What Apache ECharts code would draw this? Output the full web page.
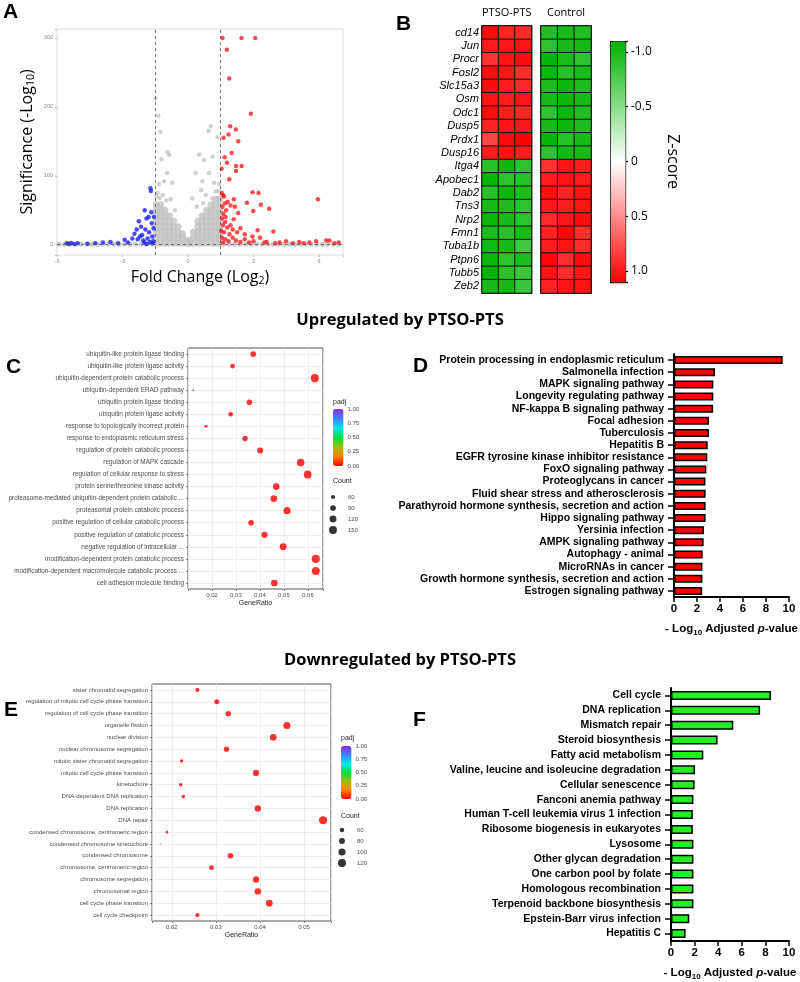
<!DOCTYPE html>
<html><head><meta charset="utf-8">
<script src="https://cdn.jsdelivr.net/npm/echarts@6/dist/echarts.min.js"></script>
<style>html,body{margin:0;padding:0;background:#fff}#c{width:800px;height:982px}</style>
</head><body><div id="c"></div>
<script>
// ---------- Panel A: volcano ----------
const volcanoGrayBase = [[-5.9,0.5],[-5.65,0.5],[-5.4,0.5],[-5.15,0.5],[-4.9,0.5],[-4.65,0.5],[-4.4,0.5],[-4.15,0.5],[-3.9,0.5],[-3.65,0.5],[-3.4,0.5],[-3.15,0.5],[-2.9,0.5],[-2.65,0.5],[-2.4,0.5],[-2.15,0.5],[-1.9,0.5],[-1.65,0.5],[1.65,0.5],[1.9,0.5],[2.15,0.5],[2.4,0.5],[2.65,0.5],[2.9,0.5],[3.15,0.5],[3.4,0.5],[3.65,0.5],[3.9,0.5],[4.15,0.5],[4.4,0.5],[4.65,0.5],[4.9,0.5],[5.15,0.5],[5.4,0.5],[5.65,0.5],[5.9,0.5],[6.15,0.5],[6.4,0.5],[6.65,0.5],[6.9,0.5]];
const volcanoGrayDense = [
 [-1.45,2],[-1.45,10],[-1.45,18],[-1.45,26],[-1.45,34],[-1.45,42],[-1.45,50],[-1.45,58],
 [-1.25,2],[-1.25,10],[-1.25,18],[-1.25,26],[-1.25,34],[-1.25,42],[-1.25,50],[-1.25,58],
 [-1.05,2],[-1.05,10],[-1.05,18],[-1.05,26],[-1.05,34],[-1.05,42],[-1.05,50],
 [-0.85,2],[-0.85,10],[-0.85,18],[-0.85,26],[-0.85,34],[-0.85,42],
 [-0.65,2],[-0.65,10],[-0.65,18],[-0.65,26],[-0.65,34],
 [-0.45,2],[-0.45,10],[-0.45,18],[-0.45,26],
 [-0.25,2],[-0.25,10],[-0.25,16],
 [-0.08,2],[-0.08,6],
 [0.08,2],[0.08,6],
 [0.25,2],[0.25,10],[0.25,18],
 [0.45,2],[0.45,10],[0.45,18],[0.45,26],[0.45,34],
 [0.65,2],[0.65,10],[0.65,18],[0.65,26],[0.65,34],[0.65,42],
 [0.85,2],[0.85,10],[0.85,18],[0.85,26],[0.85,34],[0.85,42],[0.85,50],
 [1.05,2],[1.05,10],[1.05,18],[1.05,26],[1.05,34],[1.05,42],[1.05,50],[1.05,58],
 [1.25,2],[1.25,10],[1.25,18],[1.25,26],[1.25,34],[1.25,42],[1.25,50],[1.25,58],[1.25,66],
 [1.45,2],[1.45,10],[1.45,18],[1.45,26],[1.45,34],[1.45,42],[1.45,50],[1.45,58],[1.45,66]
];
const volcanoGrayScatter = [[-1.49,212],[-1.36,187],[-1.26,164],[-0.94,134],[-0.86,130],[-1.21,124],[-0.95,104],[-1.1,92],[-0.72,90],[-1.33,88],[-1.4,75],[-1.15,72],[-0.8,66],[-1.3,68],[-1.0,64],[-0.6,50],[-1.45,70],
 [1.04,172],[0.94,165],[1.35,156],[0.51,131],[0.74,123],[1.12,128],[0.35,104],[0.97,104],[0.66,92],[1.2,90],[0.6,79],[1.27,77],[0.81,72],[0.2,67],[1.12,67],[1.43,88],[0.4,55],[0.7,60],[1.4,78]];
const volcanoBlue = [[-5.55,2],[-5.45,1],[-5.35,2.5],[-5.2,1],[-5.05,2],[-4.6,1.5],[-4.25,2],[-3.9,3],[-3.55,4],[-3.2,2],[-2.9,7],[-2.75,3],[-2.55,9],[-2.45,16],[-2.35,22],[-2.25,34],[-2.2,12],[-2.15,26],[-2.1,14],[-2.05,6],[-1.98,50],[-1.95,22],[-1.9,38],[-1.85,9],[-1.8,40],[-1.78,18],[-1.72,82],[-1.7,78],[-1.68,47],[-1.66,31],[-1.64,12],[-1.6,5],[-1.58,24],[-1.56,40],[-2.3,8],[-2.0,3],[-1.75,4],[-1.62,2],[-1.9,1]];
const volcanoRed = [[1.58,300],[2.45,300],[3.08,300],[1.78,283],[1.89,241],[2.88,190],[1.93,172],[2.19,167],[1.86,160],[1.63,155],[2.3,150],[2.0,133],[1.68,127],[1.79,119],[2.2,114],[2.46,114],[1.54,110],[2.2,107],[1.89,95],[2.96,76],[3.23,75],[5.95,66],[2.1,66],[2.7,61],[3.72,52],[3.34,58],[2.99,49],[2.3,46],[2.1,37],[3.91,19],[3.19,21],[2.95,12],[4.49,5],[5.1,4],[5.56,3],[5.87,5],[6.33,6],[6.48,6],
 [1.55,75],[1.6,72],[1.65,70],[1.7,60],[1.58,55],[1.62,45],[1.75,50],[1.55,38],[1.7,33],[1.6,28],[1.8,25],[1.52,20],[1.65,18],[1.9,15],[1.55,10],[1.7,8],[1.85,5],[2.05,10],[2.2,6],[2.4,4],[2.6,8],[2.8,3],[3.0,5],[3.5,3],[4.0,2],[4.2,3],[1.6,3],[1.95,28],[2.05,22],[2.25,18],[2.15,55],[1.95,57],[1.72,40],[1.82,62],[2.4,24],[2.6,15],[3.3,10],[3.6,4],[4.8,2],[5.3,2],[6.7,2],[6.9,3]];
const fcCutoffs = [-1.5, 1.5];
const sigCutoff = 1.3;

// ---------- Panel B: heatmap ----------
const genes = ['cd14','Jun','Procr','Fosl2','Slc15a3','Osm','Odc1','Dusp5','Prdx1','Dusp16','Itga4','Apobec1','Dab2','Tns3','Nrp2','Fmn1','Tuba1b','Ptpn6','Tubb5','Zeb2'];
const samples = ['1','2','3'];
const zPTSO = [[1.05,0.95,0.92],[0.98,1.0,1.02],[0.88,1.02,1.05],[1.05,1.0,0.9],[1.05,0.98,0.93],[1.02,0.98,1.0],[1.05,0.97,0.93],[0.95,1.02,1.0],[0.8,1.05,1.1],[0.97,1.02,0.98],
 [-0.92,-1.05,-0.9],[-1.08,-0.9,-0.92],[-0.92,-1.05,-0.98],[-1.0,-0.98,-0.9],[-1.05,-1.0,-0.9],[-0.98,-0.92,-1.0],[-1.02,-1.0,-0.82],[-1.05,-0.9,-0.98],[-1.1,-0.92,-0.85],[-1.0,-1.02,-0.85]];
const zControl = [[-0.95,-1.0,-0.95],[-0.9,-1.0,-1.02],[-1.08,-0.98,-0.9],[-1.05,-0.92,-1.0],[-0.98,-1.05,-0.98],[-1.0,-1.05,-1.0],[-0.9,-1.05,-0.95],[-1.0,-1.05,-0.97],[-1.08,-0.92,-1.0],[-0.9,-1.02,-1.0],
 [0.88,1.02,0.97],[0.97,1.02,0.98],[1.05,0.95,1.02],[1.0,0.97,1.02],[0.92,1.0,1.05],[0.95,1.08,0.9],[0.98,1.02,0.92],[1.08,0.9,1.05],[1.02,0.9,1.0],[0.95,1.02,1.02]];

// ---------- Panel C ----------
const termsC = ['ubiquitin-like protein ligase binding','ubiquitin-like protein ligase activity','ubiquitin-dependent protein catabolic process','ubiquitin-dependent ERAD pathway','ubiquitin protein ligase binding','ubiquitin protein ligase activity','response to topologically incorrect protein','response to endoplasmic reticulum stress','regulation of protein catabolic process','regulation of MAPK cascade','regulation of cellular response to stress','protein serine/threonine kinase activity','proteasome-mediated ubiquitin-dependent protein catabolic ...','proteasomal protein catabolic process','positive regulation of cellular catabolic process','positive regulation of catabolic process','negative regulation of intracellular ...','modification-dependent protein catabolic process','modification-dependent macromolecule catabolic process ...','cell adhesion molecule binding'];
const ratioC = [0.0372,0.0286,0.0629,0.0122,0.0356,0.0278,0.0175,0.0338,0.0401,0.0570,0.0599,0.0468,0.0458,0.0513,0.0363,0.0419,0.0497,0.0633,0.0633,0.0460];
const countC = [90,70,153,30,87,68,43,82,97,138,146,114,111,125,88,102,121,154,154,112];
const padjC = [0.0001,0.0002,0.0001,0.003,0.0002,0.0004,0.002,0.0003,0.0002,0.0001,0.0001,0.0001,0.0001,0.0001,0.0002,0.0001,0.0001,0.0001,0.0001,0.0001];
const countLegendC = [60,90,120,150];
const minorC = [0.015,0.025,0.035,0.045,0.055,0.065];

// ---------- Panel D ----------
const termsD = ['Protein processing in endoplasmic reticulum','Salmonella infection','MAPK signaling pathway','Longevity regulating pathway','NF-kappa B signaling pathway','Focal adhesion','Tuberculosis','Hepatitis B','EGFR tyrosine kinase inhibitor resistance','FoxO signaling pathway','Proteoglycans in cancer','Fluid shear stress and atherosclerosis','Parathyroid hormone synthesis, secretion and action','Hippo signaling pathway','Yersinia infection','AMPK signaling pathway','Autophagy - animal','MicroRNAs in cancer','Growth hormone synthesis, secretion and action','Estrogen signaling pathway'];
const valuesD = [9.45,3.57,3.42,3.42,3.4,3.04,3.04,2.93,2.9,2.81,2.73,2.75,2.75,2.75,2.6,2.58,2.49,2.47,2.47,2.45];

// ---------- Panel E ----------
const termsE = ['sister chromatid segregation','regulation of mitotic cell cycle phase transition','regulation of cell cycle phase transition','organelle fission','nuclear division','nuclear chromosome segregation','mitotic sister chromatid segregation','mitotic cell cycle phase transition','kinetochore','DNA-dependent DNA replication','DNA replication','DNA repair','condensed chromosome, centromeric region','condensed chromosome kinetochore','condensed chromosome','chromosome, centromeric region','chromosome segregation','chromosomal region','cell cycle phase transition','cell cycle checkpoint'];
const ratioE = [0.0258,0.0302,0.0328,0.0461,0.0430,0.0324,0.0222,0.0391,0.0220,0.0226,0.0395,0.0543,0.0189,0.0174,0.0333,0.0290,0.0391,0.0395,0.0421,0.0258];
const countE = [57,67,73,102,95,72,49,87,49,50,88,121,42,35,74,64,87,88,94,57];
const padjE = [0.0001,0.0001,0.0001,0.0001,0.0001,0.0001,0.0002,0.0001,0.0003,0.0002,0.0001,0.0001,0.001,0.002,0.0001,0.0002,0.0001,0.0001,0.0001,0.0003];
const countLegendE = [60,80,100,120];
const minorE = [0.025,0.035,0.045,0.055];

// ---------- Panel F ----------
const termsF = ['Cell cycle','DNA replication','Mismatch repair','Steroid biosynthesis','Fatty acid metabolism','Valine, leucine and isoleucine degradation','Cellular senescence','Fanconi anemia pathway','Human T-cell leukemia virus 1 infection','Ribosome biogenesis in eukaryotes','Lysosome','Other glycan degradation','One carbon pool by folate','Homologous recombination','Terpenoid backbone biosynthesis','Epstein-Barr virus infection','Hepatitis C'];
const valuesF = [8.47,7.55,5.28,3.95,2.74,2.03,2.0,1.9,1.85,1.85,1.9,1.9,1.9,1.9,1.9,1.55,1.24];

// ---------- build ----------
const SANS = 'Liberation Sans', OPEN = 'Open Sans';
const sizeC = c => Math.sqrt(Math.max(1, 0.5 * c - 12));
const sizeE = c => Math.sqrt(Math.max(1, 0.75 * c - 25));
const heat = z => { const d = []; z.forEach((row, gi) => row.forEach((v, si) => d.push([si, gi, v]))); return d; };
const rainbow = ['#ff0000','#ff7f00','#a0c000','#00e040','#00e8e8','#4080ff','#8a2be2'];
const ggTextC = {fontFamily: SANS, fontSize: 6.4, color: '#4d4d4d'};
const ggTextE = {fontFamily: SANS, fontSize: 6.0, color: '#4d4d4d'};
const ggTick = {fontFamily: SANS, fontSize: 6, color: '#4d4d4d'};
const logName = '{b|- Log}{s|10}{b| Adjusted }{i|p}{b|-value}';
const logRich = {b:{fontFamily:SANS,fontWeight:'bold',fontSize:11.5,color:'#000',lineHeight:16},
  s:{fontFamily:SANS,fontWeight:'bold',fontSize:8,color:'#000',lineHeight:10,verticalAlign:'bottom'},
  i:{fontFamily:SANS,fontWeight:'bold',fontStyle:'italic',fontSize:11.5,color:'#000',lineHeight:16}};
const hidden = (g) => ({gridIndex:g, type:'value', show:false});
const letter = (t, l, tp) => ({text:t, left:l, top:tp, padding:0, textStyle:{fontFamily:SANS,fontWeight:'bold',fontSize:21,color:'#000'}});
const small = (t, l, tp) => ({text:t, left:l, top:tp, padding:0, textStyle:{fontFamily:SANS,fontWeight:'normal',fontSize:7,color:'#222'}});

const option = {
  animation:false,
  backgroundColor:'#fff',
  title:[
    letter('A',3,2), letter('B',396,14), letter('C',6,357), letter('D',413,356), letter('E',4,700), letter('F',413,710),
    {text:'Upregulated by PTSO-PTS', left:'center', top:312, padding:0, textStyle:{fontFamily:OPEN,fontWeight:'bold',fontSize:16.5,color:'#000'}},
    {text:'Downregulated by PTSO-PTS', left:'center', top:652, padding:0, textStyle:{fontFamily:OPEN,fontWeight:'bold',fontSize:16.5,color:'#000'}},
    small('padj',333,399), small('Count',333,478), small('padj',341,735), small('Count',341,813)
  ],
  grid:[
    {left:57, top:29, width:286, height:226, show:true, borderColor:'#d9d9d9', borderWidth:1},
    {left:482, top:26, width:49.5, height:267, show:true, borderColor:'#000', borderWidth:1.5},
    {left:541, top:26, width:50, height:267, show:true, borderColor:'#000', borderWidth:1.5},
    {left:610, top:41, width:15, height:241},
    {left:188, top:348, width:135, height:241, show:true, borderColor:'#555', borderWidth:1},
    {left:333, top:409, width:10.5, height:57},
    {left:333, top:491.5, width:10, height:44},
    {left:674, top:354, width:115, height:243},
    {left:152, top:684, width:179, height:237, show:true, borderColor:'#555', borderWidth:1},
    {left:341, top:746, width:10.5, height:53},
    {left:342, top:824.5, width:10, height:44},
    {left:671, top:688, width:118, height:255}
  ],
  xAxis:[
    {gridIndex:0, type:'value', min:-6, max:7.1, interval:3, axisLine:{show:false,onZero:false}, splitLine:{show:false},
      axisTick:{show:true,length:2,lineStyle:{color:'#999',width:0.6}},
      axisLabel:{fontFamily:SANS,fontSize:5.5,color:'#888',margin:3,formatter:v=>{const r=Math.round(v/3)*3;return (Math.abs(v-r)<1e-6&&r>=-6&&r<=6)?String(r):'';}},
      name:'{a|Fold Change (Log}{s|2}{a|)}', nameLocation:'middle', nameGap:12,
      nameTextStyle:{rich:{a:{fontFamily:OPEN,fontSize:16,color:'#000',lineHeight:20},s:{fontFamily:OPEN,fontSize:10.5,color:'#000',lineHeight:13,verticalAlign:'bottom'}}}},
    {gridIndex:1, type:'category', data:samples, position:'top', axisLine:{show:false}, axisTick:{show:false}, axisLabel:{show:false},
      name:'PTSO-PTS', nameLocation:'middle', nameGap:8, nameTextStyle:{fontFamily:OPEN,fontSize:11,color:'#000'}},
    {gridIndex:2, type:'category', data:samples, position:'top', axisLine:{show:false}, axisTick:{show:false}, axisLabel:{show:false},
      name:'Control', nameLocation:'middle', nameGap:8, nameTextStyle:{fontFamily:OPEN,fontSize:11,color:'#000'}},
    hidden(3),
    {gridIndex:4, type:'value', min:0.01, max:0.0663, interval:0.01, axisLine:{show:false,onZero:false},
      axisTick:{show:true,length:2,lineStyle:{color:'#333',width:0.6}},
      splitLine:{show:true,lineStyle:{color:'#e6e6e6',width:0.7}},
      axisLabel:{...ggTick, margin:3, formatter:v=>{const r=Math.round(v*100)/100;return (Math.abs(v-r)<1e-7&&r>=0.02&&r<=0.06)?r.toFixed(2):'';}},
      name:'GeneRatio', nameLocation:'middle', nameGap:11, nameTextStyle:{fontFamily:SANS,fontSize:7,color:'#222'}},
    hidden(5), hidden(6),
    {gridIndex:7, type:'value', min:0, max:10, interval:2, axisLine:{show:true,onZero:false,lineStyle:{color:'#000',width:2}},
      axisTick:{show:true,length:5,lineStyle:{color:'#000',width:1.5}}, splitLine:{show:false},
      axisLabel:{fontFamily:SANS,fontWeight:'bold',fontSize:11.5,color:'#000',margin:6},
      name:logName, nameLocation:'middle', nameGap:24, nameTextStyle:{rich:logRich}},
    {gridIndex:8, type:'value', min:0.0155, max:0.0561, splitNumber:4, axisLine:{show:false,onZero:false},
      axisTick:{show:true,length:2,lineStyle:{color:'#333',width:0.6}},
      splitLine:{show:true,lineStyle:{color:'#e6e6e6',width:0.7}},
      axisLabel:{...ggTick, margin:3, formatter:v=>{const r=Math.round(v*100)/100;return (Math.abs(v-r)<1e-7&&r>=0.02&&r<=0.05)?r.toFixed(2):'';}},
      name:'GeneRatio', nameLocation:'middle', nameGap:11, nameTextStyle:{fontFamily:SANS,fontSize:7,color:'#222'}},
    hidden(9), hidden(10),
    {gridIndex:11, type:'value', min:0, max:10, interval:2, axisLine:{show:true,onZero:false,lineStyle:{color:'#000',width:2}},
      axisTick:{show:true,length:5,lineStyle:{color:'#000',width:1.5}}, splitLine:{show:false},
      axisLabel:{fontFamily:SANS,fontWeight:'bold',fontSize:11.5,color:'#000',margin:6},
      name:logName, nameLocation:'middle', nameGap:24, nameTextStyle:{rich:logRich}}
  ],
  yAxis:[
    {gridIndex:0, type:'value', min:-15, max:313, splitNumber:3, axisLine:{show:false,onZero:false}, splitLine:{show:false},
      axisTick:{show:true,length:2,lineStyle:{color:'#999',width:0.6}},
      axisLabel:{fontFamily:SANS,fontSize:5.5,color:'#888',margin:4,formatter:v=>(v>=0&&Math.abs(v%100)<1e-6)?String(v):''},
      name:'{a|Significance (-Log}{s|10}{a|)}', nameLocation:'middle', nameGap:20,
      nameTextStyle:{rich:{a:{fontFamily:OPEN,fontSize:16,color:'#000',lineHeight:20},s:{fontFamily:OPEN,fontSize:10.5,color:'#000',lineHeight:13,verticalAlign:'bottom'}}}},
    {gridIndex:1, type:'category', data:genes, inverse:true, axisLine:{show:false}, axisTick:{show:false},
      axisLabel:{interval:0,fontFamily:SANS,fontStyle:'italic',fontSize:11,color:'#000',margin:3}},
    {gridIndex:2, type:'category', data:genes, inverse:true, axisLine:{show:false}, axisTick:{show:false}, axisLabel:{show:false}},
    {gridIndex:3, type:'value', min:-1.1, max:1.1, splitNumber:4, inverse:true, position:'right', axisLine:{show:false,onZero:false},
      axisTick:{show:true,length:3,lineStyle:{color:'#000',width:1.2}}, splitLine:{show:false},
      axisLabel:{fontFamily:OPEN,fontSize:12,color:'#000',margin:6,formatter:v=>{const r=Math.round(v*2)/2;if(Math.abs(v-r)>1e-6)return '';return r===0?'0':r.toFixed(1);}},
      name:'Z-score', nameLocation:'middle', nameRotate:-90, nameGap:40, nameTextStyle:{fontFamily:OPEN,fontSize:16,color:'#000'}},
    {gridIndex:4, type:'category', data:termsC, inverse:true, axisLine:{show:false,onZero:false},
      axisTick:{show:true,alignWithLabel:true,length:2,lineStyle:{color:'#333',width:0.6}},
      splitLine:{show:true,alignWithLabel:true,lineStyle:{color:'#e6e6e6',width:0.7}},
      axisLabel:{...ggTextC, interval:0, margin:4}},
    {gridIndex:5, type:'value', min:0, max:1, interval:0.25, position:'right', axisLine:{show:false}, axisTick:{show:false}, splitLine:{show:false},
      axisLabel:{...ggTick, margin:4, formatter:v=>v.toFixed(2)}},
    {gridIndex:6, type:'category', data:countLegendC.map(String), inverse:true, position:'right', axisLine:{show:false}, axisTick:{show:false},
      axisLabel:{...ggTick, margin:5}},
    {gridIndex:7, type:'category', data:termsD, inverse:true, axisLine:{show:true,onZero:false,lineStyle:{color:'#000',width:2}},
      axisTick:{show:true,alignWithLabel:true,length:6,lineStyle:{color:'#000',width:1.5}},
      axisLabel:{interval:0,fontFamily:SANS,fontWeight:'bold',fontSize:10.5,color:'#000',margin:10}},
    {gridIndex:8, type:'category', data:termsE, inverse:true, axisLine:{show:false,onZero:false},
      axisTick:{show:true,alignWithLabel:true,length:2,lineStyle:{color:'#333',width:0.6}},
      splitLine:{show:true,alignWithLabel:true,lineStyle:{color:'#e6e6e6',width:0.7}},
      axisLabel:{...ggTextE, interval:0, margin:4}},
    {gridIndex:9, type:'value', min:0, max:1, interval:0.25, position:'right', axisLine:{show:false}, axisTick:{show:false}, splitLine:{show:false},
      axisLabel:{...ggTick, margin:4, formatter:v=>v.toFixed(2)}},
    {gridIndex:10, type:'category', data:countLegendE.map(String), inverse:true, position:'right', axisLine:{show:false}, axisTick:{show:false},
      axisLabel:{...ggTick, margin:5}},
    {gridIndex:11, type:'category', data:termsF, inverse:true, axisLine:{show:true,onZero:false,lineStyle:{color:'#000',width:2}},
      axisTick:{show:true,alignWithLabel:true,length:6,lineStyle:{color:'#000',width:1.5}},
      axisLabel:{interval:0,fontFamily:SANS,fontWeight:'bold',fontSize:10.5,color:'#000',margin:10}}
  ],
  visualMap:[
    {type:'continuous', seriesIndex:[5,6], min:-1.1, max:1.1, inverse:true, left:610, top:41, itemWidth:15, itemHeight:241,
      calculable:false, hoverLink:false, padding:0, borderColor:'#000', borderWidth:1.2, text:null,
      inRange:{color:['#00b400','#ffffff','#ff0000']}},
    {type:'continuous', seriesIndex:7, dimension:3, min:0, max:1, left:333, top:409, itemWidth:10.5, itemHeight:57,
      calculable:false, hoverLink:false, padding:0, inRange:{color:rainbow}},
    {type:'continuous', seriesIndex:11, dimension:3, min:0, max:1, left:341, top:746, itemWidth:10.5, itemHeight:53,
      calculable:false, hoverLink:false, padding:0, inRange:{color:rainbow}}
  ],
  series:[
    {type:'scatter', xAxisIndex:0, yAxisIndex:0, data:volcanoGrayBase, symbolSize:5, itemStyle:{color:'#bdbdbd'}, silent:true},
    {type:'scatter', xAxisIndex:0, yAxisIndex:0, data:volcanoGrayDense, symbolSize:7, itemStyle:{color:'#c2c2c2'}, silent:true},
    {type:'scatter', xAxisIndex:0, yAxisIndex:0, data:volcanoGrayScatter, symbolSize:4.5, itemStyle:{color:'#c8c8c8',opacity:0.85}, silent:true},
    {type:'scatter', xAxisIndex:0, yAxisIndex:0, data:volcanoBlue, symbolSize:4.5, itemStyle:{color:'#1f1fff'}, silent:true,
      markLine:{silent:true, symbol:'none', label:{show:false}, lineStyle:{type:[3,3],color:'#555',width:0.8},
        data:[...fcCutoffs.map(v=>({xAxis:v})), {yAxis:sigCutoff}]}},
    {type:'scatter', xAxisIndex:0, yAxisIndex:0, data:volcanoRed, symbolSize:4.5, itemStyle:{color:'#ff1f1f'}, silent:true},
    {type:'heatmap', xAxisIndex:1, yAxisIndex:1, data:heat(zPTSO), itemStyle:{borderColor:'#111',borderWidth:1}, silent:true},
    {type:'heatmap', xAxisIndex:2, yAxisIndex:2, data:heat(zControl), itemStyle:{borderColor:'#111',borderWidth:1}, silent:true},
    {type:'scatter', xAxisIndex:4, yAxisIndex:4, data:termsC.map((t,i)=>[ratioC[i],t,countC[i],padjC[i]]), symbolSize:v=>sizeC(v[2]), silent:true, z:3},
    {type:'scatter', xAxisIndex:4, yAxisIndex:4, data:[], silent:true,
      markLine:{silent:true, z:1, symbol:'none', label:{show:false}, lineStyle:{type:'solid',color:'#f0f0f0',width:0.5}, data:minorC.map(v=>({xAxis:v}))}},
    {type:'scatter', xAxisIndex:6, yAxisIndex:6, data:countLegendC.map(c=>[0,String(c),c]), symbolSize:v=>sizeC(v[2]), itemStyle:{color:'#000'}, silent:true},
    {type:'bar', xAxisIndex:7, yAxisIndex:7, data:valuesD, barWidth:8, itemStyle:{color:'#ff0000',borderColor:'#000',borderWidth:1.5}, silent:true},
    {type:'scatter', xAxisIndex:8, yAxisIndex:8, data:termsE.map((t,i)=>[ratioE[i],t,countE[i],padjE[i]]), symbolSize:v=>sizeE(v[2]), silent:true, z:3},
    {type:'scatter', xAxisIndex:8, yAxisIndex:8, data:[], silent:true,
      markLine:{silent:true, z:1, symbol:'none', label:{show:false}, lineStyle:{type:'solid',color:'#f0f0f0',width:0.5}, data:minorE.map(v=>({xAxis:v}))}},
    {type:'scatter', xAxisIndex:10, yAxisIndex:10, data:countLegendE.map(c=>[0,String(c),c]), symbolSize:v=>sizeE(v[2]), itemStyle:{color:'#000'}, silent:true},
    {type:'bar', xAxisIndex:11, yAxisIndex:11, data:valuesF, barWidth:9, itemStyle:{color:'#22f022',borderColor:'#000',borderWidth:1.5}, silent:true}
  ]
};
const chart = echarts.init(document.getElementById('c'), null, {renderer:'canvas'});
chart.setOption(option);
</script></body></html>
